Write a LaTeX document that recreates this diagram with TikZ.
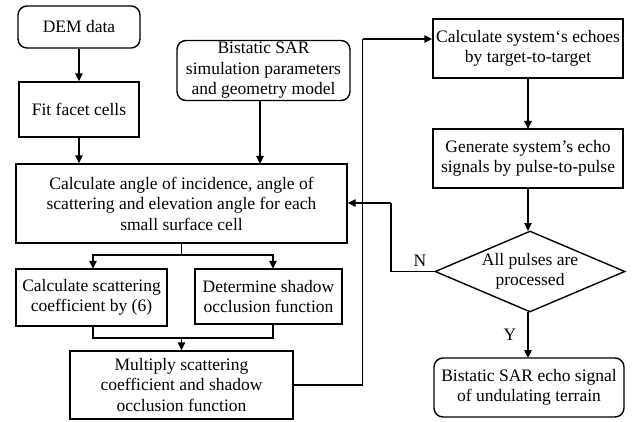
\documentclass[tikz,border=0pt]{standalone}
\usepackage{fontspec}
\setmainfont{Liberation Serif}
\usetikzlibrary{shapes.geometric,arrows.meta}
\begin{document}
\begin{tikzpicture}[x=1pt,y=-1pt,
  every node/.style={font=\fontsize{17.5}{20.5}\selectfont, align=center, inner sep=0pt},
  box/.style={draw, line width=1.4pt},
  rbox/.style={draw, line width=1.4pt, rounded corners=9pt},
  conn/.style={line width=1.4pt},
  arr/.style={conn, -{Triangle[length=8pt,width=7.5pt]}}]
\useasboundingbox (0,0) rectangle (636,422);
\node[rbox, minimum width=122pt, minimum height=42pt] (dem) at (79,27) {DEM data};
\node[box, minimum width=120pt, minimum height=55pt] (fit) at (79,109.5) {Fit facet cells};
\node[rbox, minimum width=173pt, minimum height=60pt] (bist) at (263.5,70.5) {Bistatic SAR\\simulation parameters\\and geometry model};
\node[box, minimum width=331pt, minimum height=79pt] (calc) at (181.5,203.5) {Calculate angle of incidence, angle of\\scattering and elevation angle for each\\small surface cell};
\node[box, minimum width=151pt, minimum height=57pt] (scat) at (91.5,297.5) {Calculate scattering\\coefficient by (6)};
\node[box, minimum width=147pt, minimum height=55pt] (shad) at (268.5,296.5) {Determine shadow\\occlusion function};
\node[box, minimum width=223pt, minimum height=68pt] (mult) at (181.5,385) {Multiply scattering\\coefficient and shadow\\occlusion function};
\node[box, minimum width=190pt, minimum height=59pt] (echo) at (528,48.5) {Calculate system‘s echoes\\by target-to-target};
\node[box, minimum width=190pt, minimum height=59pt] (gen) at (528,158.5) {Generate system's echo\\signals by pulse-to-pulse};
\node[diamond, draw, line width=1.4pt, aspect=2.35, minimum width=190pt, minimum height=81pt] (dia) at (530,271.5) {All pulses are\\processed};
\node[rbox, minimum width=190pt, minimum height=59pt] (fin) at (529,387.5) {Bistatic SAR echo signal\\of undulating terrain};
\coordinate (br) at (181.5,255);
\coordinate (mg) at (181.5,338);
\coordinate (up) at (362.5,385);
\coordinate (top) at (362.5,39);
\coordinate (nx) at (391,271.5);
\coordinate (ny) at (391,203);
\draw[arr] (dem) -- (fit);
\draw[arr] (fit.south) -- (fit.south |- calc.north);
\draw[arr] (260,100.5) -- (260,164);
\draw[conn] (calc.south) -- (br);
\draw[arr] (br) -| (93,268.8);
\draw[arr] (br) -| (273,268.8);
\draw[conn] (93,326) |- (mg) -| (273,324);
\draw[arr] (mg) -- (mult.north);
\draw[conn] (mult.east |- up) -- (up) -- (top);
\draw[arr] (top) -- (top -| echo.west);
\draw[arr] (528,78) -- (528,129);
\draw[arr] (528,188) -- (528,231);
\draw[conn] (dia.west) -- (nx) -- (ny);
\draw[arr] (ny) -- (ny -| calc.east);
\draw[arr] (528,312) -- (528,358);
\node at (420,261) {N};
\node at (510,335) {Y};
\end{tikzpicture}
\end{document}
